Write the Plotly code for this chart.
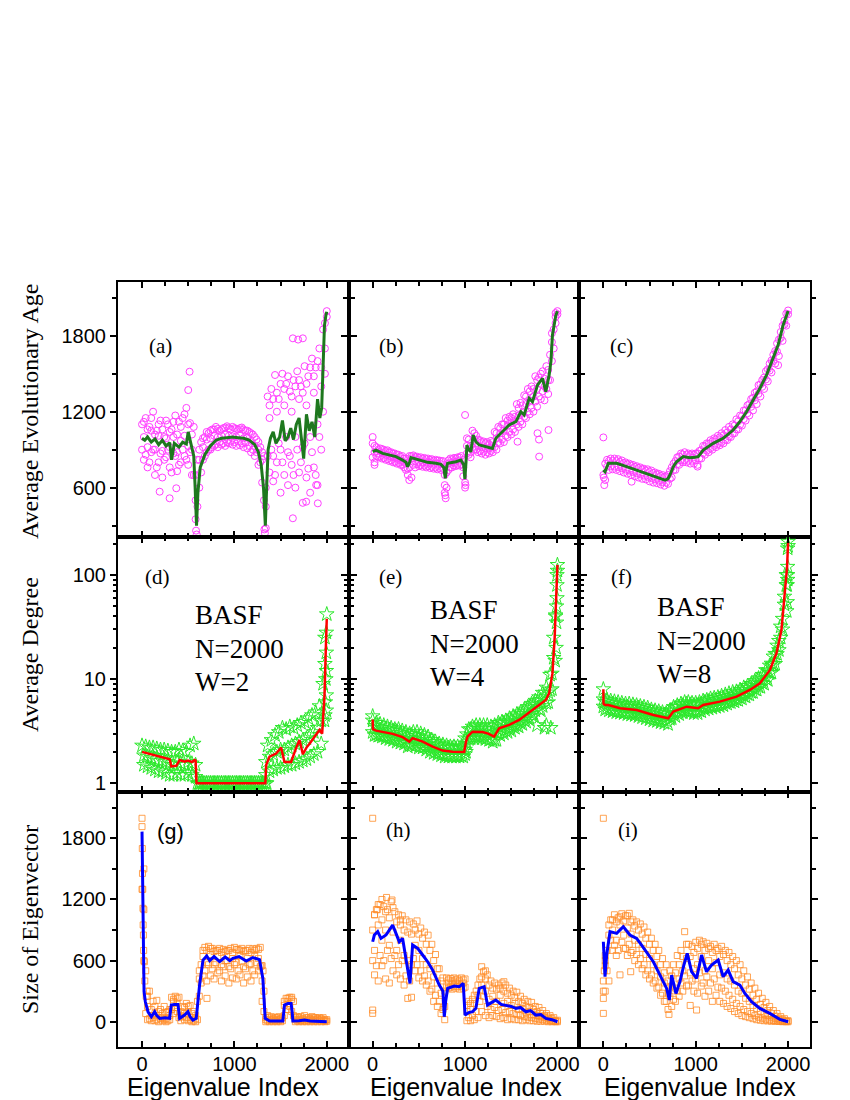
"""
Eigenvector panels for the BASF network (N=2000, W=2/4/8)
Average evolutionary age, average degree and eigenvector size vs eigenvalue index
"""

import plotly.graph_objects as go
from plotly.subplots import make_subplots

# index grids used by the scatter clouds
SX1 = [0, 40, 80, 120, 160, 200, 240, 280, 320, 360, 400, 440, 480, 520, 560, 600, 640,
       680, 720, 760, 800, 840, 880, 920, 960, 1000, 1040, 1080, 1120, 1160, 1200, 1240,
       1280, 1320, 1360, 1400, 1440, 1480, 1520, 1560, 1600, 1640, 1680, 1720, 1760, 1800,
       1840, 1880, 1920, 1960, 2000]
SX2 = [20, 60, 100, 140, 180, 220, 260, 300, 340, 380, 420, 460, 500, 540, 580, 620, 660,
       700, 740, 780, 820, 860, 900, 940, 980, 1020, 1060, 1100, 1140, 1180, 1220, 1260,
       1300, 1340, 1380, 1420, 1460, 1500, 1540, 1580, 1620, 1660, 1700, 1740, 1780, 1820,
       1860, 1900, 1940, 1980]

# ---- (a) average evolutionary age, W=2
A_HI = [1100, 1150, 1080, 1200, 1050, 1130, 1000, 1100, 1060, 1170, 1120, 1150, 1230, 1110,
        1080, 820, 960, 1000, 1030, 1060, 1080, 1050, 1070, 1085, 1060, 1070, 1060, 1075,
        1050, 1040, 1020, 980, 920, 850, 1320, 1380, 1490, 1300, 1500, 1420, 1360, 1450,
        1520, 1400, 1560, 1480, 1620, 1550, 1700, 1850, 1995]
A_DN2 = [900, 860, 800, 900, 760, 870, 820, 900, 720, 850, 780, 900, 820, 880, 700, 450, 720,
         850, 900, 920, 940, 960, 950, 960, 970, 960, 965, 950, 955, 930, 900, 880, 800, 500,
         850, 900, 700, 950, 800, 1000, 850, 700, 900, 800, 950, 750, 880, 700, 1000, 1200, 1950]
A_LO = [820, 760, 880, 700, 800, 680, 840, 760, 870, 730, 800, 850, 780, 700, 350, 600, 820,
        880, 900, 930, 920, 940, 930, 950, 940, 930, 935, 920, 910, 880, 850, 780, 640, 280,
        720, 650, 800, 560, 700, 620, 780, 600, 720, 480, 680, 560, 760, 620, 900, 1500]
A_MID = [1000, 920, 1050, 900, 1010, 890, 990, 920, 1000, 880, 970, 1010, 930, 900, 500, 820,
         920, 980, 990, 1010, 1000, 1010, 1020, 1010, 1005, 1000, 1010, 990, 995, 970, 930,
         900, 820, 450, 1150, 850, 1200, 900, 1250, 880, 1200, 1000, 1300, 920, 1250, 1000,
         1350, 1100, 1400, 1700]
A_UP2 = [1120, 1060, 1150, 1020, 1100, 1060, 1130, 1040, 1120, 1020, 1080, 1180, 1100, 1020,
         700, 900, 990, 1040, 1050, 1060, 1065, 1060, 1075, 1070, 1080, 1065, 1070, 1060,
         1050, 1030, 1000, 960, 880, 600, 1250, 1300, 1350, 1420, 1380, 1480, 1320, 1400,
         1450, 1350, 1420, 1550, 1480, 1600, 1550, 1900]
A_EX = [515, 500, 1633, 1690, 1741, 585, 592, 1330, 1325, 371, 191, 299, 1633, 1777, 1903, 1885]
A_EY = [1516, 1371, 1780, 1770, 1780, 260, 230, 240, 270, 595, 568, 516, 358, 489, 476, 621]
A_LX = [0, 30, 60, 100, 140, 180, 220, 260, 300, 320, 350, 400, 440, 480, 500, 530, 560, 575,
        590, 605, 630, 680, 740, 800, 860, 920, 980, 1040, 1100, 1160, 1220, 1260, 1290,
        1315, 1335, 1350, 1365, 1390, 1420, 1450, 1490, 1520, 1550, 1580, 1610, 1640, 1670,
        1700, 1720, 1750, 1780, 1810, 1840, 1870, 1900, 1925, 1945, 1960, 1975, 1990, 2000]
A_LY = [990, 975, 1000, 960, 985, 940, 975, 930, 955, 820, 950, 920, 960, 945, 1040, 930, 850,
        600, 300, 560, 760, 860, 930, 975, 990, 995, 1000, 995, 990, 975, 940, 880, 780, 600,
        300, 620, 900, 990, 1040, 950, 1000, 1130, 970, 1000, 1070, 980, 1100, 1150, 1000,
        830, 1180, 1050, 1120, 1000, 1300, 1150, 1230, 1500, 1880, 1960, 1990]

# ---- (b) average evolutionary age, W=4
B_HI = [950, 920, 910, 900, 895, 880, 870, 860, 850, 830, 850, 855, 845, 840, 835, 830, 825,
        820, 815, 810, 720, 830, 835, 840, 850, 1174, 980, 1050, 1010, 975, 965, 960, 970,
        1040, 1080, 1100, 1150, 1160, 1180, 1260, 1270, 1330, 1380, 1400, 1480, 1470, 1520,
        1560, 1650, 1850, 1995]
B_DN2 = [840, 850, 845, 835, 825, 815, 805, 795, 780, 740, 760, 780, 785, 780, 775, 770, 765,
         760, 755, 750, 600, 760, 775, 780, 785, 640, 860, 920, 900, 890, 885, 880, 890, 920,
         960, 980, 1010, 1040, 1060, 1100, 1120, 1160, 1200, 1230, 1280, 1320, 1360, 1380,
         1450, 1700, 1970]
B_LO = [800, 840, 830, 820, 810, 800, 790, 780, 760, 700, 680, 760, 770, 765, 760, 755, 750,
        745, 740, 560, 740, 760, 770, 775, 690, 870, 840, 900, 880, 870, 860, 870, 880, 900,
        950, 960, 1000, 1020, 1040, 1080, 1100, 1150, 1180, 1200, 1240, 1300, 1290, 1340,
        1600, 1900]
B_MID = [880, 870, 875, 860, 850, 840, 830, 815, 800, 750, 830, 810, 805, 800, 800, 795, 790,
         790, 785, 620, 790, 800, 805, 815, 760, 930, 880, 980, 930, 920, 915, 910, 930, 990,
         1030, 1050, 1090, 1110, 1120, 1170, 1190, 1260, 1290, 1320, 1380, 1420, 1400, 1450,
         1750, 1950]
B_UP2 = [930, 900, 905, 890, 880, 870, 860, 845, 830, 800, 850, 840, 835, 830, 825, 820, 815,
         815, 810, 700, 815, 825, 830, 840, 820, 990, 930, 1030, 980, 960, 950, 945, 960, 1030,
         1070, 1100, 1130, 1150, 1160, 1230, 1250, 1320, 1360, 1380, 1450, 1500, 1460, 1530,
         1820, 1980]
B_EX = [786, 790, 1000, 1005, 1568, 1903, 1802, 1784, 1800, 396, 20, 0]
B_EY = [540, 516, 600, 620, 963, 1055, 845, 1030, 980, 660, 780, 1000]
B_LX = [0, 36, 108, 180, 252, 324, 360, 378, 400, 414, 505, 595, 685, 739, 770, 786, 800, 811,
        901, 955, 985, 998, 1010, 1020, 1040, 1063, 1088, 1117, 1153, 1225, 1297, 1333, 1405,
        1478, 1550, 1604, 1640, 1694, 1730, 1784, 1838, 1874, 1910, 1930, 1946, 1970, 1982, 2000]
B_LY = [884, 897, 871, 858, 845, 818, 800, 766, 800, 837, 818, 800, 792, 784, 760, 673, 760,
        792, 805, 818, 780, 668, 800, 937, 900, 884, 1016, 963, 937, 924, 910, 990, 1042, 1095,
        1121, 1200, 1174, 1305, 1279, 1410, 1463, 1358, 1489, 1600, 1805, 1900, 1960, 1995]

# ---- (c) average evolutionary age, W=8
C_HI = [997, 820, 830, 830, 825, 815, 800, 790, 780, 770, 760, 750, 745, 735, 720, 710, 700,
        690, 730, 790, 840, 870, 880, 870, 870, 870, 890, 930, 950, 975, 990, 1010, 1030,
        1055, 1080, 1100, 1140, 1170, 1210, 1250, 1300, 1350, 1410, 1450, 1520, 1580, 1650,
        1740, 1830, 1920, 2000]
C_DN2 = [700, 765, 768, 767, 763, 753, 743, 735, 725, 714, 705, 695, 686, 675, 665, 655, 643,
         640, 670, 740, 785, 815, 818, 813, 813, 817, 832, 872, 892, 911, 930, 945, 960, 978,
         1003, 1027, 1060, 1097, 1142, 1188, 1239, 1290, 1341, 1397, 1455, 1525, 1599, 1675,
         1783, 1889, 1970]
C_LO = [660, 740, 745, 740, 730, 720, 710, 700, 690, 680, 670, 665, 650, 640, 635, 625, 615,
        630, 680, 740, 780, 800, 800, 790, 790, 780, 830, 860, 880, 900, 920, 935, 950, 975,
        1000, 1030, 1060, 1090, 1130, 1170, 1210, 1260, 1320, 1380, 1440, 1510, 1580, 1640,
        1760, 1880]
C_UP2 = [790, 810, 812, 810, 803, 793, 784, 775, 765, 755, 745, 735, 725, 715, 705, 693, 685,
         700, 760, 810, 845, 862, 860, 858, 860, 870, 897, 927, 947, 965, 982, 998, 1015, 1035,
         1060, 1090, 1125, 1165, 1210, 1260, 1310, 1360, 1415, 1470, 1535, 1605, 1680, 1770,
         1880, 1975]
C_EX = [10, 5, 306, 1020, 1892]
C_EY = [620, 680, 647, 766, 1568]
C_LX = [0, 18, 54, 144, 252, 360, 469, 577, 667, 700, 721, 760, 793, 865, 937, 990, 1027,
        1081, 1189, 1297, 1405, 1478, 1550, 1622, 1694, 1766, 1838, 1892, 1946, 2000]
C_LY = [740, 726, 792, 792, 766, 739, 713, 687, 660, 670, 700, 770, 805, 845, 837, 840, 845,
        897, 950, 990, 1055, 1121, 1200, 1292, 1384, 1489, 1621, 1726, 1884, 1995]

# ---- (d) average degree, W=2
D_HI = [2.3, 2.25, 2.2, 2.2, 2.15, 2.1, 2.1, 2.05, 2.0, 2.0, 2.1, 2.05, 2.0, 2.3, 2.4,
        1.0, 1.0, 1.0, 1.0, 1.0, 1.0, 1.0, 1.0, 1.0, 1.0, 1.0, 1.0, 1.0, 1.0, 1.0, 1.0, 1.0,
        1.0, 1.0, 2.3, 2.6, 2.9, 3.1, 3.4, 3.3, 3.5, 3.4, 3.6, 3.8, 3.9, 4.2, 4.5, 4.8, 5.5,
        9.0, 42]
D_LO = [1.5, 1.45, 1.4, 1.35, 1.3, 1.3, 1.25, 1.2, 1.2, 1.25, 1.2, 1.2, 1.25, 1.2, 1.15,
        1.0, 1.0, 1.0, 1.0, 1.0, 1.0, 1.0, 1.0, 1.0, 1.0, 1.0, 1.0, 1.0, 1.0, 1.0, 1.0, 1.0,
        1.0, 1.2, 1.3, 1.35, 1.4, 1.4, 1.45, 1.5, 1.5, 1.55, 1.6, 1.65, 1.7, 1.8, 1.9, 2.0,
        2.4, 14]
D_MID = [1.85, 1.8, 1.75, 1.7, 1.65, 1.65, 1.6, 1.55, 1.5, 1.6, 1.55, 1.5, 1.6, 1.55, 1.5,
         1.0, 1.0, 1.0, 1.0, 1.0, 1.0, 1.0, 1.0, 1.0, 1.0, 1.0, 1.0, 1.0, 1.0, 1.0, 1.0, 1.0,
         1.0, 1.6, 1.8, 1.9, 2.0, 2.1, 2.1, 2.2, 2.3, 2.4, 2.5, 2.6, 2.7, 2.9, 3.1, 3.4, 4.0, 25]
D_EX = [1995, 1995, 1995, 1995, 1995, 1990, 1985, 1980, 1975, 1340, 1350]
D_EY = [5, 7, 12, 18, 28, 10, 6, 4.5, 4.0, 1.0, 1.0]
D_LX = [0, 83, 191, 263, 300, 317, 371, 407, 461, 497, 540, 569, 580, 590, 700, 900, 1100,
        1300, 1335, 1344, 1380, 1452, 1506, 1542, 1580, 1614, 1669, 1705, 1741, 1780, 1813,
        1867, 1921, 1950, 1975, 1990, 2000]
D_LY = [2.0, 1.91, 1.8, 1.74, 1.7, 1.45, 1.47, 1.67, 1.61, 1.65, 1.6, 1.67, 1.65, 1.0, 1.0,
        1.0, 1.0, 1.0, 1.0, 1.5, 1.8, 1.93, 2.2, 1.6, 1.6, 1.6, 2.2, 2.6, 1.9, 2.2, 2.4, 2.8,
        3.25, 3.0, 6.8, 20, 38]

# ---- (e) average degree, W=4
E_HI = [4.4, 3.8, 3.7, 3.6, 3.5, 3.4, 3.3, 3.3, 3.2, 3.1, 3.0, 3.1, 3.1, 3.0, 2.9, 2.8, 2.6,
        2.5, 2.4, 2.35, 2.3, 2.25, 2.25, 2.25, 2.25, 2.7, 3.3, 3.5, 3.6, 3.6, 3.6, 3.6, 3.5,
        3.6, 3.8, 3.9, 4.0, 4.2, 4.4, 4.6, 4.8, 5.1, 5.4, 5.8, 6.2, 6.7, 7.4, 8.3, 11, 25, 125]
E_DN2 = [3.1, 2.95, 2.9, 2.85, 2.8, 2.75, 2.7, 2.6, 2.55, 2.45, 2.35, 2.5, 2.4, 2.3, 2.25, 2.2,
         2.1, 2.0, 1.95, 1.9, 1.88, 1.86, 1.85, 1.84, 1.84, 2.1, 2.65, 2.9, 2.85, 2.85, 2.85,
         2.75, 2.65, 2.6, 3.0, 3.15, 3.25, 3.35, 3.5, 3.6, 3.8, 4.05, 4.3, 4.65, 5.0, 5.2, 5.5,
         5.9, 7.8, 16, 110]
E_LO = [2.9, 2.85, 2.8, 2.7, 2.65, 2.6, 2.5, 2.45, 2.4, 2.25, 2.3, 2.3, 2.2, 2.2, 2.1, 2.0,
        1.95, 1.9, 1.85, 1.8, 1.8, 1.8, 1.8, 1.8, 1.8, 2.4, 2.7, 2.7, 2.7, 2.7, 2.65, 2.6, 2.5,
        2.6, 2.9, 3.0, 3.1, 3.2, 3.4, 3.5, 3.7, 3.9, 4.1, 4.4, 3.6, 5.0, 3.4, 6.0, 8.0, 40]
E_UP2 = [3.55, 3.45, 3.4, 3.35, 3.25, 3.2, 3.15, 3.05, 2.95, 2.75, 2.9, 2.85, 2.75, 2.7, 2.6,
         2.5, 2.42, 2.33, 2.26, 2.21, 2.19, 2.17, 2.16, 2.16, 2.16, 2.95, 3.3, 3.38, 3.36, 3.35,
         3.3, 3.22, 3.08, 3.35, 3.67, 3.78, 3.9, 4.0, 4.2, 4.37, 4.62, 4.9, 5.25, 5.6, 6.0, 6.3,
         6.7, 7.45, 11.3, 41]
E_EX = [1995, 1995, 1995, 1990, 1990, 1985, 1975, 0, 1928, 1880, 1000, 1010]
E_EY = [100, 80, 60, 50, 35, 20, 15, 4.0, 3.4, 3.6, 1.9, 2.0]
E_LX = [0, 3, 36, 108, 216, 324, 396, 432, 541, 649, 757, 865, 991, 1010, 1027, 1081, 1189,
        1250, 1315, 1369, 1478, 1586, 1658, 1766, 1874, 1910, 1946, 1970, 1982, 2000]
E_LY = [4.1, 3.3, 3.2, 3.13, 2.98, 2.77, 2.51, 2.71, 2.51, 2.25, 2.06, 2.01, 2.0, 2.5, 2.81,
        3.13, 3.1, 3.0, 2.81, 3.37, 3.63, 4.06, 4.53, 5.44, 6.3, 7.3, 11.4, 25, 42.8, 125]

# ---- (f) average degree, W=8
F_HI = [6.4, 6.3, 6.2, 6.1, 6.0, 5.9, 5.8, 5.8, 5.7, 5.6, 5.5, 5.4, 5.3, 5.1, 5.0, 4.9, 4.8,
        4.7, 5.0, 5.4, 5.6, 5.8, 6.0, 6.0, 5.9, 5.9, 6.0, 6.2, 6.3, 6.5, 6.6, 6.7, 6.9, 7.1,
        7.3, 7.5, 7.6, 7.9, 8.3, 8.6, 9.0, 9.6, 10.2, 11.0, 12.2, 13.5, 16.5, 21, 32, 62, 209]
F_DN2 = [5.45, 5.25, 5.15, 5.05, 5.0, 4.9, 4.85, 4.8, 4.78, 4.75, 4.65, 4.55, 4.42, 4.3, 4.23,
         4.14, 4.06, 4.0, 4.14, 4.6, 4.75, 4.9, 5.05, 5.1, 5.03, 4.96, 4.98, 5.3, 5.4, 5.48,
         5.57, 5.67, 5.78, 5.92, 6.06, 6.22, 6.37, 6.63, 6.9, 7.2, 7.5, 8.0, 8.45, 9.2, 10.1,
         11.4, 13.9, 17.4, 25, 52, 190]
F_LO = [5.1, 5.0, 4.9, 4.8, 4.75, 4.7, 4.6, 4.55, 4.5, 4.4, 4.3, 4.2, 4.1, 4.0, 3.95, 3.85,
        3.8, 3.7, 4.2, 4.4, 4.6, 4.8, 4.85, 4.8, 4.7, 4.7, 4.9, 5.1, 5.2, 5.3, 5.4, 5.5, 5.6,
        5.8, 6.0, 6.1, 6.3, 6.5, 6.8, 7.1, 7.5, 7.9, 8.4, 9.0, 9.8, 11.5, 14, 19, 30, 80]
F_UP2 = [6.05, 5.9, 5.8, 5.67, 5.57, 5.5, 5.43, 5.4, 5.37, 5.3, 5.2, 5.05, 4.92, 4.8, 4.72,
         4.62, 4.54, 4.47, 4.98, 5.27, 5.43, 5.6, 5.77, 5.7, 5.63, 5.59, 5.81, 6.04, 6.13, 6.23,
         6.34, 6.44, 6.59, 6.76, 6.93, 7.1, 7.31, 7.63, 7.95, 8.27, 8.75, 9.28, 9.96, 10.9,
         12.1, 14.1, 17.5, 23.3, 38, 100]
F_EX = [0, 1995, 1995, 1995, 1995, 1990, 1990, 1985]
F_EY = [8.0, 180, 120, 100, 90, 80, 55, 45]
F_LX = [0, 2, 20, 54, 180, 360, 541, 703, 757, 901, 1027, 1081, 1261, 1442, 1586, 1694, 1802,
        1874, 1928, 1964, 1989, 2000]
F_LY = [8.0, 5.8, 5.65, 5.65, 5.25, 5.06, 4.53, 4.21, 4.88, 5.44, 5.25, 5.65, 6.08, 6.79, 7.87,
        9.12, 12.2, 17.7, 29.6, 62, 120, 209]

# ---- (g) size of eigenvector, W=2
G_HI = [1997, 500, 300, 200, 210, 120, 150, 100, 240, 250, 240, 150, 180, 160, 100, 200, 560,
        730, 740, 720, 700, 720, 710, 700, 720, 730, 710, 720, 700, 720, 715, 720, 730, 300,
        60, 50, 40, 50, 40, 230, 240, 200, 50, 50, 60, 40, 50, 40, 40, 40, 20]
G_DN2 = [1300, 80, 30, 40, 20, 30, 20, 10, 120, 140, 40, 50, 40, 20, 10, 20, 380, 500, 560,
         520, 580, 500, 540, 600, 520, 560, 500, 590, 520, 560, 500, 580, 540, 100, 10, 10, 10,
         10, 10, 120, 150, 60, 10, 10, 10, 10, 10, 10, 10, 10, 5]
G_LO = [600, 20, 10, 10, 0, 10, 0, 20, 80, 100, 10, 20, 10, 0, 0, 250, 450, 400, 450, 420,
        480, 400, 450, 380, 430, 420, 460, 380, 440, 400, 460, 500, 200, 0, 0, 0, 0, 0, 60,
        120, 100, 0, 0, 0, 0, 0, 0, 0, 0, 0]
G_MID = [1100, 150, 60, 80, 60, 40, 30, 60, 200, 180, 60, 80, 100, 40, 30, 420, 640, 580, 660,
         560, 640, 560, 600, 540, 620, 580, 650, 540, 620, 570, 650, 620, 400, 20, 20, 20, 20,
         20, 160, 200, 220, 20, 20, 20, 20, 20, 20, 20, 20, 10]
G_UP2 = [1500, 250, 120, 150, 100, 80, 90, 120, 220, 230, 100, 140, 150, 80, 60, 500, 700, 700,
         720, 690, 700, 680, 690, 700, 680, 710, 700, 690, 700, 680, 700, 710, 550, 40, 40, 30,
         40, 30, 200, 230, 240, 40, 40, 30, 40, 30, 40, 30, 30, 20]
G_EX = [0, 3, 5, 8, 10, 12, 15, 18, 25, 30, 703, 1310, 1290, 45, 55]
G_EY = [1915, 1700, 1456, 1300, 1113, 950, 851, 700, 589, 400, 229, 500, 550, 250, 300]
G_LX = [0, 11, 22, 36, 65, 101, 137, 160, 191, 250, 299, 310, 317, 350, 389, 400, 407, 461,
        497, 520, 551, 587, 623, 660, 700, 732, 780, 840, 900, 950, 984, 1050, 1128, 1200,
        1272, 1308, 1333, 1380, 1450, 1524, 1535, 1542, 1580, 1614, 1625, 1633, 1700, 1759,
        1820, 1885, 1950, 2000]
G_LY = [1866, 1015, 295, 196, 98, 49, 98, 60, 33, 40, 33, 120, 164, 170, 170, 90, 33, 65, 98,
        50, 16, 33, 360, 605, 645, 600, 640, 590, 635, 600, 622, 640, 595, 630, 610, 425, 33,
        7, 10, 7, 100, 164, 180, 180, 100, 7, 10, 16, 8, 7, 5, 0]

# ---- (h) size of eigenvector, W=4
H_HI = [1997, 1100, 1150, 1130, 1100, 1178, 1080, 1050, 1040, 1000, 980, 960, 990, 920, 880,
        850, 760, 660, 520, 430, 430, 425, 430, 420, 430, 420, 200, 220, 300, 420, 491, 460,
        400, 380, 360, 380, 360, 330, 300, 290, 250, 220, 200, 190, 150, 140, 110, 80, 60, 40, 15]
H_DN2 = [600, 550, 650, 600, 700, 620, 650, 560, 600, 450, 400, 620, 560, 500, 450, 400, 320,
         260, 200, 120, 340, 340, 350, 345, 350, 340, 40, 60, 100, 200, 250, 150, 120, 140, 110,
         120, 90, 100, 80, 70, 60, 50, 45, 40, 30, 25, 20, 15, 10, 5, 0]
H_LO = [460, 400, 550, 420, 380, 500, 460, 420, 360, 229, 240, 500, 430, 400, 360, 300, 200,
        150, 80, 20, 330, 320, 330, 320, 330, 10, 10, 20, 40, 100, 60, 40, 60, 50, 30, 40, 20,
        30, 20, 20, 10, 20, 10, 10, 5, 5, 5, 0, 0, 0]
H_MID = [700, 950, 800, 900, 750, 880, 700, 800, 650, 600, 560, 750, 700, 620, 560, 520, 440,
         380, 280, 150, 380, 370, 380, 370, 380, 100, 120, 180, 260, 360, 300, 220, 250, 200,
         260, 180, 200, 160, 180, 120, 130, 90, 100, 70, 60, 50, 40, 30, 15, 5]
H_UP2 = [1050, 1150, 1000, 1080, 1020, 1120, 980, 950, 900, 880, 860, 900, 860, 820, 760, 700,
         600, 520, 400, 300, 410, 400, 410, 400, 410, 160, 180, 260, 360, 440, 420, 360, 330,
         320, 330, 300, 280, 260, 240, 200, 180, 150, 140, 120, 100, 80, 60, 45, 30, 10]
H_EX = [0, 0, 0, 20, 50, 100, 150, 209, 300, 1180, 1220, 1420]
H_EY = [115, 82, 900, 1050, 1100, 1200, 1220, 1195, 1000, 540, 500, 393]
H_LX = [0, 18, 54, 90, 144, 216, 252, 288, 324, 360, 404, 432, 487, 541, 595, 649, 721, 760,
        775, 790, 811, 883, 937, 980, 1000, 1040, 1081, 1117, 1153, 1207, 1243, 1290, 1333,
        1390, 1441, 1500, 1550, 1600, 1658, 1710, 1766, 1820, 1874, 1940, 2000]
H_LY = [785, 851, 884, 818, 851, 949, 867, 785, 818, 622, 376, 753, 720, 655, 589, 507, 360,
        300, 49, 200, 327, 350, 344, 376, 65, 90, 98, 131, 327, 344, 164, 190, 213, 170, 164,
        150, 131, 140, 98, 110, 65, 70, 33, 20, 0]

# ---- (i) size of eigenvector, W=8
I_HI = [1997, 700, 1000, 1050, 1020, 1060, 1040, 1064, 1000, 980, 960, 930, 880, 820, 760,
        700, 620, 560, 500, 560, 650, 700, 884, 760, 740, 780, 800, 785, 770, 740, 760, 720,
        740, 700, 680, 640, 600, 560, 500, 440, 380, 330, 280, 230, 190, 150, 110, 80, 50, 30, 10]
I_DN2 = [400, 500, 800, 750, 700, 780, 720, 760, 700, 660, 620, 560, 500, 460, 400, 340, 280,
         200, 250, 220, 300, 380, 450, 360, 400, 420, 480, 380, 440, 380, 420, 340, 330, 300,
         260, 220, 180, 150, 120, 100, 80, 60, 45, 35, 25, 18, 12, 8, 5, 3, 0]
I_LO = [300, 400, 700, 650, 460, 720, 650, 680, 600, 560, 520, 460, 420, 380, 330, 260, 200,
        120, 150, 200, 250, 300, 350, 160, 300, 280, 350, 250, 300, 200, 260, 200, 180, 150,
        130, 100, 80, 60, 50, 40, 30, 20, 15, 10, 8, 5, 5, 3, 0, 0]
I_MID = [550, 850, 900, 800, 950, 850, 920, 860, 800, 760, 720, 660, 620, 560, 500, 440, 380,
         280, 350, 330, 420, 500, 620, 480, 520, 560, 640, 500, 600, 520, 580, 460, 480, 420,
         400, 360, 300, 280, 230, 200, 160, 130, 100, 80, 60, 45, 30, 20, 10, 3]
I_UP2 = [650, 950, 1000, 980, 1030, 990, 1040, 980, 940, 900, 860, 820, 760, 700, 640, 560,
         480, 400, 450, 480, 560, 640, 760, 640, 680, 720, 760, 700, 720, 680, 700, 640, 660,
         600, 560, 520, 460, 420, 360, 320, 260, 220, 170, 140, 110, 80, 55, 35, 20, 8]
I_EX = [0, 0, 0, 10, 20, 296, 1009, 710]
I_EY = [229, 82, 300, 500, 600, 491, 115, 72]
I_LX = [0, 18, 36, 72, 144, 216, 288, 360, 414, 469, 541, 613, 685, 714, 739, 786, 829, 870,
        908, 955, 1009, 1063, 1117, 1171, 1243, 1297, 1351, 1405, 1478, 1532, 1604, 1694,
        1802, 1910, 2000]
I_LY = [785, 442, 655, 884, 867, 933, 851, 818, 753, 687, 589, 458, 327, 213, 458, 278, 393,
        550, 671, 491, 425, 655, 491, 556, 606, 442, 507, 393, 360, 278, 196, 131, 82, 23, 0]

PANEL_LABELS = ["(a)", "(b)", "(c)", "(d)", "(e)", "(f)", "(g)", "(h)", "(i)"]
W_LABELS = ["W=2", "W=4", "W=8"]
ROW_TITLES = ["Average Evolutionary Age", "Average Degree", "Size of Eigenvector"]

SERIF = "Liberation Serif, Times New Roman, serif"
SANS = "Liberation Sans, Arial, sans-serif"

# plot area on the page: x 118..810, y 282..1047 (the page body adds an 8px margin)
L, R, T, B = 118, 810, 282, 1047
BODY = 8
FIG_W, FIG_H = 850 - BODY, 1100 - BODY


def px(x):
    return (x - L) / (R - L)


def py(y):
    return (B - y) / (B - T)


ROW_STYLE = {
    1: dict(symbol="circle-open", size=7, color="#FF40FF", line="#1E781E", lw=3),
    2: dict(symbol="star-open", size=11, color="#2CE82C", line="#FF0000", lw=2.5),
    3: dict(symbol="square-open", size=6, color="rgba(255,140,40,0.8)", line="#0000FF", lw=3),
}


def add_panel(fig, row, col, cloud, ex_x, ex_y, line_x, line_y):
    st = ROW_STYLE[row]
    xs, ys = [], []
    for grid, vals in cloud:
        xs += grid
        ys += vals
    xs += ex_x
    ys += ex_y
    fig.add_trace(go.Scatter(
        x=xs, y=ys, mode="markers",
        marker=dict(symbol=st["symbol"], size=st["size"], color=st["color"],
                    line=dict(color=st["color"], width=1)),
        showlegend=False, hoverinfo="skip"
    ), row=row, col=col)
    fig.add_trace(go.Scatter(
        x=line_x, y=line_y, mode="lines",
        line=dict(color=st["line"], width=st["lw"]),
        showlegend=False
    ), row=row, col=col)


def create_figure():
    fig = make_subplots(rows=3, cols=3, horizontal_spacing=0, vertical_spacing=0)

    add_panel(fig, 1, 1, [(SX1, A_HI), (SX1, A_DN2), (SX2, A_LO), (SX2, A_MID), (SX2, A_UP2)],
              A_EX, A_EY, A_LX, A_LY)
    add_panel(fig, 1, 2, [(SX1, B_HI), (SX1, B_DN2), (SX2, B_LO), (SX2, B_MID), (SX2, B_UP2)],
              B_EX, B_EY, B_LX, B_LY)
    add_panel(fig, 1, 3, [(SX1, C_HI), (SX1, C_DN2), (SX2, C_LO), (SX2, C_UP2)],
              C_EX, C_EY, C_LX, C_LY)
    add_panel(fig, 2, 1, [(SX1, D_HI), (SX2, D_LO), (SX2, D_MID)],
              D_EX, D_EY, D_LX, D_LY)
    add_panel(fig, 2, 2, [(SX1, E_HI), (SX1, E_DN2), (SX2, E_LO), (SX2, E_UP2)],
              E_EX, E_EY, E_LX, E_LY)
    add_panel(fig, 2, 3, [(SX1, F_HI), (SX1, F_DN2), (SX2, F_LO), (SX2, F_UP2)],
              F_EX, F_EY, F_LX, F_LY)
    add_panel(fig, 3, 1, [(SX1, G_HI), (SX1, G_DN2), (SX2, G_LO), (SX2, G_MID), (SX2, G_UP2)],
              G_EX, G_EY, G_LX, G_LY)
    add_panel(fig, 3, 2, [(SX1, H_HI), (SX1, H_DN2), (SX2, H_LO), (SX2, H_MID), (SX2, H_UP2)],
              H_EX, H_EY, H_LX, H_LY)
    add_panel(fig, 3, 3, [(SX1, I_HI), (SX1, I_DN2), (SX2, I_LO), (SX2, I_MID), (SX2, I_UP2)],
              I_EX, I_EY, I_LX, I_LY)

    frame = dict(showline=True, linecolor="black", linewidth=2, mirror="ticks",
                 ticklen=6, tickwidth=1.5, tickcolor="black",
                 showgrid=False, zeroline=False, automargin=False)

    for r in range(1, 4):
        for c in range(1, 4):
            fig.update_xaxes(
                range=[-260, 2237], tickvals=[0, 1000, 2000], ticks="inside",
                ticklabelstandoff=-2,
                minor=dict(tickvals=[250, 500, 750, 1250, 1500, 1750], ticks="inside",
                           ticklen=4, tickcolor="black"),
                showticklabels=(r == 3), tickfont=dict(family=SANS, size=20, color="black"),
                row=r, col=c, **frame)
            ylab = dict(showticklabels=(c == 1), ticks="outside",
                        tickfont=dict(family=SANS, size=20, color="black"))
            if r == 1:
                fig.update_yaxes(range=[210, 2225], tickvals=[600, 1200, 1800],
                                 minor=dict(tickvals=[300, 900, 1500, 2100], ticks="outside",
                                            ticklen=4, tickcolor="black"),
                                 row=r, col=c, **frame, **ylab)
            elif r == 2:
                fig.update_yaxes(type="log", range=[-0.084, 2.365], tickvals=[1, 10, 100],
                                 ticktext=["1", "10", "100"],
                                 minor=dict(tickvals=[2, 3, 4, 5, 6, 7, 8, 9, 20, 30, 40, 50,
                                                      60, 70, 80, 90, 200],
                                            ticks="outside", ticklen=3, tickcolor="black"),
                                 row=r, col=c, **frame, **ylab)
            else:
                fig.update_yaxes(range=[-248, 2255], tickvals=[0, 600, 1200, 1800],
                                 minor=dict(tickvals=[300, 900, 1500, 2100], ticks="outside",
                                            ticklen=4, tickcolor="black"),
                                 row=r, col=c, **frame, **ylab)

    ann = []
    label_pos = [(160, 346), (391, 346), (621, 346), (157, 577), (390, 577), (621, 577),
                 (170, 831), (398, 830), (628, 830)]
    for lab, (x, y) in zip(PANEL_LABELS, label_pos):
        fam, size = (SANS, 22) if lab == "(g)" else (SERIF, 21)
        ann.append(dict(x=px(x), y=py(y), text=lab, showarrow=False, xref="paper", yref="paper",
                        xanchor="center", yanchor="middle", font=dict(family=fam, size=size)))

    basf_pos = [(193, 615), (428, 610), (655, 607)]
    for (x, y), w in zip(basf_pos, W_LABELS):
        for k, txt in enumerate(["BASF", "N=2000", w]):
            ann.append(dict(x=px(x), y=py(y + 33.5 * k), text=txt, showarrow=False,
                            xref="paper", yref="paper", xanchor="left", yanchor="middle",
                            font=dict(family=SERIF, size=27)))

    for title, y in zip(ROW_TITLES, [412, 655, 920]):
        ann.append(dict(x=px(30), y=py(y), text=title, textangle=-90, showarrow=False,
                        xref="paper", yref="paper", xanchor="center", yanchor="middle",
                        font=dict(family=SERIF, size=24)))

    for x in [223, 466, 700]:
        ann.append(dict(x=px(x), y=py(1087), text="Eigenvalue Index", showarrow=False,
                        xref="paper", yref="paper", xanchor="center", yanchor="middle",
                        font=dict(family=SANS, size=25)))

    fig.update_layout(
        width=FIG_W, height=FIG_H,
        margin=dict(l=L - BODY, r=850 - R, t=T - BODY, b=1100 - B),
        paper_bgcolor="white", plot_bgcolor="white",
        template="none",
        annotations=ann,
        showlegend=False,
        font=dict(color="black")
    )
    return fig


fig = create_figure()
fig.write_html("out.html")
